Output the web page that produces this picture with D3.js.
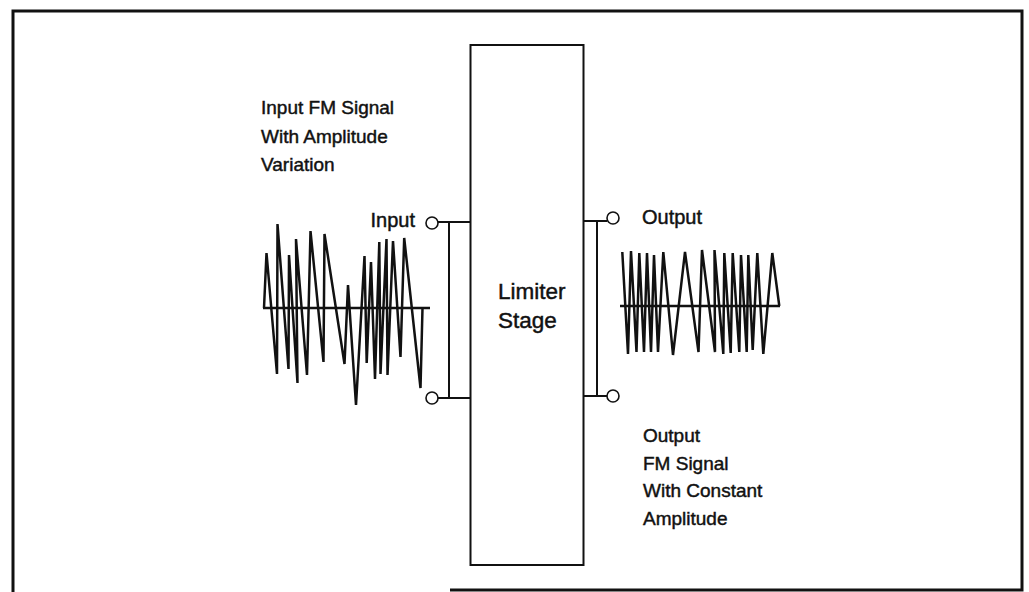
<!DOCTYPE html>
<html><head><meta charset="utf-8">
<script src="https://cdn.jsdelivr.net/npm/d3@7"></script>
<style>html,body{margin:0;padding:0;background:#fff;}svg{display:block;}</style>
</head><body>
<svg id="c" width="1029" height="592"></svg>
<script>
// ---- data ----
// input FM signal (amplitude varies): time offset and amplitude
const inputTime = [0, 2.5, 13, 13.5, 24.5, 25, 33.5, 32, 43, 46.5, 59.5, 60.5, 80.5, 84, 92, 100.5, 102.7, 107, 111, 115.3, 116.5, 122.5, 123.5, 129, 136.5, 140.2, 156.5, 158.5];
const inputAmp  = [0, 55, -66, 84, -61, 53, -75, 69, -67, 77, -54, 74, -56, 23, -97, 52, -55, 46, -71, 66, -66, 69, -67, 67, -49, 70, -80, 0];
// output FM signal (constant amplitude)
const outputTime = [2.3, 8, 11, 16.5, 19.3, 24, 27, 31, 34, 38, 43.3, 53, 65, 78.5, 82, 95, 94.5, 103.3, 104.3, 110.7, 112.7, 119.3, 121, 126.7, 128.3, 132.7, 137.3, 143.3, 152.3, 159.3];
const outputAmp  = [54, -48, 55, -46, 53, -46, 53, -46, 51, -46, 54, -49, 54, -46, 56, -46, 56, -48, 53, -47, 53, -46, 51, -46, 51, -44, 53, -48, 53, 0];
const inputLabel  = ["Input FM Signal", "With Amplitude", "Variation"];
const outputLabel = ["Output", "FM Signal", "With Constant", "Amplitude"];
const stageLabel  = ["Limiter", "Stage"];
const portLabels  = ["Input", "Output"];

const svg = d3.select("#c");
const ink = "#111";
const font = "'Liberation Sans', Arial, Helvetica, sans-serif";

// outer frame (bottom-left part missing in the scan)
svg.append("path").attr("fill","none").attr("stroke",ink).attr("stroke-width",3)
  .attr("d", d3.line()([[13,592],[13,11],[1022,11],[1022,590],[450,590]]));

// limiter box
svg.append("rect").attr("x",470.5).attr("y",45).attr("width",113).attr("height",520)
  .attr("fill","none").attr("stroke",ink).attr("stroke-width",2);

// connectors
const g = svg.append("g").attr("stroke",ink).attr("stroke-width",2).attr("fill","none");
g.append("path").attr("d", d3.line()([[438,222],[470,222]]));
g.append("path").attr("d", d3.line()([[449,222],[449,398],[438,398]]));
g.append("path").attr("d", d3.line()([[449,398],[470,398]]));
g.append("path").attr("d", d3.line()([[584,221],[607,221]]));
g.append("path").attr("d", d3.line()([[597,221],[597,396]]));
g.append("path").attr("d", d3.line()([[584,396],[607,396]]));
[[432,223],[432,398],[613,218],[613,396]].forEach(p=>{
  svg.append("circle").attr("cx",p[0]).attr("cy",p[1]).attr("r",6)
    .attr("fill","#fff").attr("stroke",ink).attr("stroke-width",1.6);
});

// waveform scales
const xIn = d3.scaleLinear().domain([0,166]).range([264,430]);
const yIn = d3.scaleLinear().domain([-100,100]).range([408,208]);
const xOut = d3.scaleLinear().domain([0,160]).range([620,780]);
const yOut = d3.scaleLinear().domain([-100,100]).range([406,206]);

// baselines
svg.append("line").attr("x1",xIn(-1)).attr("x2",xIn(166)).attr("y1",yIn(0)).attr("y2",yIn(0))
  .attr("stroke",ink).attr("stroke-width",2.4);
svg.append("line").attr("x1",xOut(0)).attr("x2",xOut(160)).attr("y1",yOut(0)).attr("y2",yOut(0))
  .attr("stroke",ink).attr("stroke-width",2.4);

const inPts = inputTime.map((t,i)=>[xIn(t), yIn(inputAmp[i])]);
const outPts = outputTime.map((t,i)=>[xOut(t), yOut(outputAmp[i])]);
svg.append("path").attr("d", d3.line()(inPts)).attr("fill","none").attr("stroke",ink)
  .attr("stroke-width",2.5).attr("stroke-linejoin","miter").attr("stroke-miterlimit",2);
svg.append("path").attr("d", d3.line()(outPts)).attr("fill","none").attr("stroke",ink)
  .attr("stroke-width",2.5).attr("stroke-linejoin","miter").attr("stroke-miterlimit",2);

// texts
function label(s, x, y, size, anchor){
  svg.append("text").attr("x",x).attr("y",y).text(s)
    .attr("text-anchor",anchor||"start")
    .attr("font-family",font).attr("font-size",size).attr("fill",ink)
    .attr("stroke",ink).attr("stroke-width",0.45);
}
inputLabel.forEach((s,i)=>label(s, 261, 114+i*28.5, 19));
outputLabel.forEach((s,i)=>label(s, 643, 442+i*27.5, 19));
stageLabel.forEach((s,i)=>label(s, 498, 299+i*29, 22.5));
label(portLabels[0], 415, 227, 20, "end");
label(portLabels[1], 642, 224, 20);
</script>
</body></html>
